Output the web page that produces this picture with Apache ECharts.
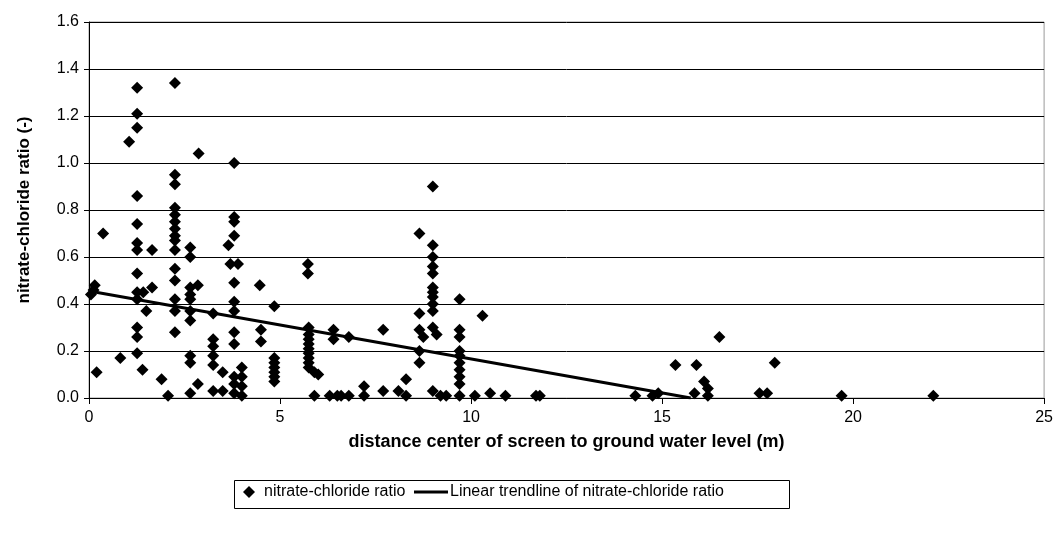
<!DOCTYPE html>
<html>
<head>
<meta charset="utf-8">
<script src="https://cdn.jsdelivr.net/npm/echarts@6/dist/echarts.min.js"></script>
<style>
  html, body { margin: 0; padding: 0; background: #fff; }
  #chart { width: 1056px; height: 540px; }
</style>
</head>
<body>
<div id="chart"></div>
<script>
// distance center of screen to ground water level (m)
var distance = [
  0.05, 0.12, 0.15, 0.2, 0.37, 0.82, 1.05,
  1.26, 1.26, 1.26, 1.26, 1.26, 1.26, 1.26, 1.26, 1.26, 1.26, 1.26, 1.26, 1.26,
  1.42, 1.4, 1.5, 1.65, 1.65, 1.9, 2.07,
  2.25, 2.25, 2.25, 2.25, 2.25, 2.25, 2.25, 2.25, 2.25, 2.25, 2.25, 2.25, 2.25, 2.25, 2.25,
  2.65, 2.65, 2.65, 2.65, 2.65, 2.65, 2.65, 2.65, 2.65, 2.65,
  2.87, 2.85, 2.85,
  3.25, 3.25, 3.25, 3.25, 3.25, 3.25,
  3.5, 3.5, 3.65, 3.7,
  3.8, 3.8, 3.8, 3.8, 3.8, 3.8, 3.8, 3.8, 3.8, 3.8, 3.8, 3.8,
  3.9, 4.0, 4.0, 4.0, 4.0,
  4.47, 4.5, 4.5,
  4.85, 4.85, 4.85, 4.85, 4.85, 4.85, 4.85,
  5.73, 5.73, 5.75, 5.75, 5.75, 5.75, 5.75, 5.75, 5.75, 5.75, 5.75,
  5.9, 6.0, 5.9,
  6.4, 6.4, 6.8, 7.7,
  6.3, 6.5, 6.6, 6.8, 7.2, 7.2, 7.7, 8.1, 8.3, 8.3,
  8.65, 8.65, 8.65, 8.65, 8.65, 8.75,
  9.0, 9.0, 9.0, 9.0, 9.0, 9.0, 9.0, 9.0, 9.0, 9.0, 9.0, 9.1,
  9.0, 9.2, 9.35,
  9.7, 9.7, 9.7, 9.7, 9.7, 9.7, 9.7, 9.7, 9.7, 9.7,
  10.3, 10.1, 10.5, 10.9, 11.7, 11.8,
  14.3, 14.75, 14.9, 15.35, 15.9, 16.5, 16.1, 16.2, 15.85, 16.2,
  17.55, 17.75, 17.95, 19.7, 22.1
];
// nitrate-chloride ratio (-)
var ratio = [
  0.44, 0.46, 0.48, 0.11, 0.70, 0.17, 1.09,
  1.32, 1.21, 1.15, 0.86, 0.74, 0.66, 0.63, 0.53, 0.45, 0.42, 0.30, 0.26, 0.19,
  0.45, 0.12, 0.37, 0.63, 0.47, 0.08, 0.01,
  1.34, 0.95, 0.91, 0.81, 0.78, 0.75, 0.72, 0.69, 0.67, 0.63, 0.55, 0.50, 0.42, 0.37, 0.28,
  0.64, 0.60, 0.47, 0.44, 0.42, 0.37, 0.33, 0.18, 0.15, 0.02,
  1.04, 0.48, 0.06,
  0.36, 0.25, 0.22, 0.18, 0.14, 0.03,
  0.11, 0.03, 0.65, 0.57,
  1.00, 0.77, 0.75, 0.69, 0.49, 0.41, 0.37, 0.28, 0.23, 0.09, 0.06, 0.02,
  0.57, 0.13, 0.09, 0.05, 0.01,
  0.48, 0.29, 0.24,
  0.39, 0.17, 0.15, 0.13, 0.11, 0.09, 0.07,
  0.57, 0.53, 0.30, 0.27, 0.25, 0.23, 0.21, 0.19, 0.17, 0.15, 0.13,
  0.11, 0.10, 0.01,
  0.29, 0.25, 0.26, 0.29,
  0.01, 0.01, 0.01, 0.01, 0.05, 0.01, 0.03, 0.03, 0.08, 0.01,
  0.70, 0.36, 0.29, 0.20, 0.15, 0.26,
  0.90, 0.65, 0.60, 0.56, 0.53, 0.47, 0.45, 0.43, 0.40, 0.37, 0.30, 0.27,
  0.03, 0.01, 0.01,
  0.42, 0.29, 0.26, 0.20, 0.18, 0.15, 0.12, 0.09, 0.06, 0.01,
  0.35, 0.01, 0.02, 0.01, 0.01, 0.01,
  0.01, 0.01, 0.02, 0.14, 0.14, 0.26, 0.07, 0.04, 0.02, 0.01,
  0.02, 0.02, 0.15, 0.01, 0.01
];
// linear trendline end points
var trendX = [0, 15.75];
var trendY = [0.455, 0];

var points = distance.map(function (d, i) { return [d, ratio[i]]; });
var trend = trendX.map(function (d, i) { return [d, trendY[i]]; });

var font = 'Liberation Sans, Arial, sans-serif';
var chart = echarts.init(document.getElementById('chart'));
var option = {
  backgroundColor: '#fff',
  animation: false,
  textStyle: { fontFamily: font, color: '#000' },
  grid: {
    left: 89, right: 11, top: 22, bottom: 142,
    show: true, borderColor: '#999', borderWidth: 1
  },
  graphic: [{
    type: 'rect', left: 232, top: 478,
    shape: { width: 555, height: 28 },
    style: { fill: 'none', stroke: '#000', lineWidth: 1 }
  }],
  legend: [
    {
      left: 243, top: 484,
      data: [{ name: 'nitrate-chloride ratio', icon: 'diamond' }],
      itemWidth: 12, itemHeight: 12, itemGap: 0,
      padding: 0,
      textStyle: { fontSize: 16, color: '#000', fontFamily: font, padding: [0, 0, 0, 4] }
    },
    {
      left: 414, top: 484,
      data: [{ name: 'Linear trendline of nitrate-chloride ratio', icon: 'rect' }],
      itemWidth: 34, itemHeight: 3, itemGap: 0,
      padding: 0,
      textStyle: { fontSize: 16, color: '#000', fontFamily: font, padding: [0, 0, 0, -3] }
    }
  ],
  xAxis: {
    type: 'value', min: 0, max: 25, interval: 5,
    name: 'distance center of screen to ground water level (m)',
    nameLocation: 'middle', nameGap: 35,
    nameTextStyle: { fontSize: 18, fontWeight: 'bold', color: '#000' },
    axisLine: { lineStyle: { color: '#000', width: 1 } },
    axisTick: { show: true, inside: false, length: 6, lineStyle: { color: '#000' } },
    axisLabel: { fontSize: 16, color: '#000', margin: 12 },
    splitLine: { show: false }
  },
  yAxis: {
    type: 'value', min: 0, max: 1.6, interval: 0.2,
    name: 'nitrate-chloride ratio (-)',
    nameLocation: 'middle', nameGap: 56, nameRotate: 90,
    nameTextStyle: { fontSize: 17, fontWeight: 'bold', color: '#000' },
    axisLine: { show: true, lineStyle: { color: '#000', width: 1 } },
    axisTick: { show: true, inside: false, length: 5, lineStyle: { color: '#000' } },
    axisLabel: { fontSize: 16, color: '#000', margin: 10,
      formatter: function (v) { return v.toFixed(1); } },
    splitLine: { show: true, lineStyle: { color: '#000', width: 1 } }
  },
  series: [
    {
      name: 'nitrate-chloride ratio',
      type: 'scatter',
      symbol: 'diamond',
      symbolSize: 12,
      itemStyle: { color: '#000', opacity: 1 },
      data: points,
      z: 3
    },
    {
      name: 'Linear trendline of nitrate-chloride ratio',
      type: 'line',
      showSymbol: false,
      symbol: 'none',
      lineStyle: { color: '#000', width: 3 },
      itemStyle: { color: '#000' },
      data: trend,
      z: 4
    }
  ]
};
chart.setOption(option);
</script>
</body>
</html>
